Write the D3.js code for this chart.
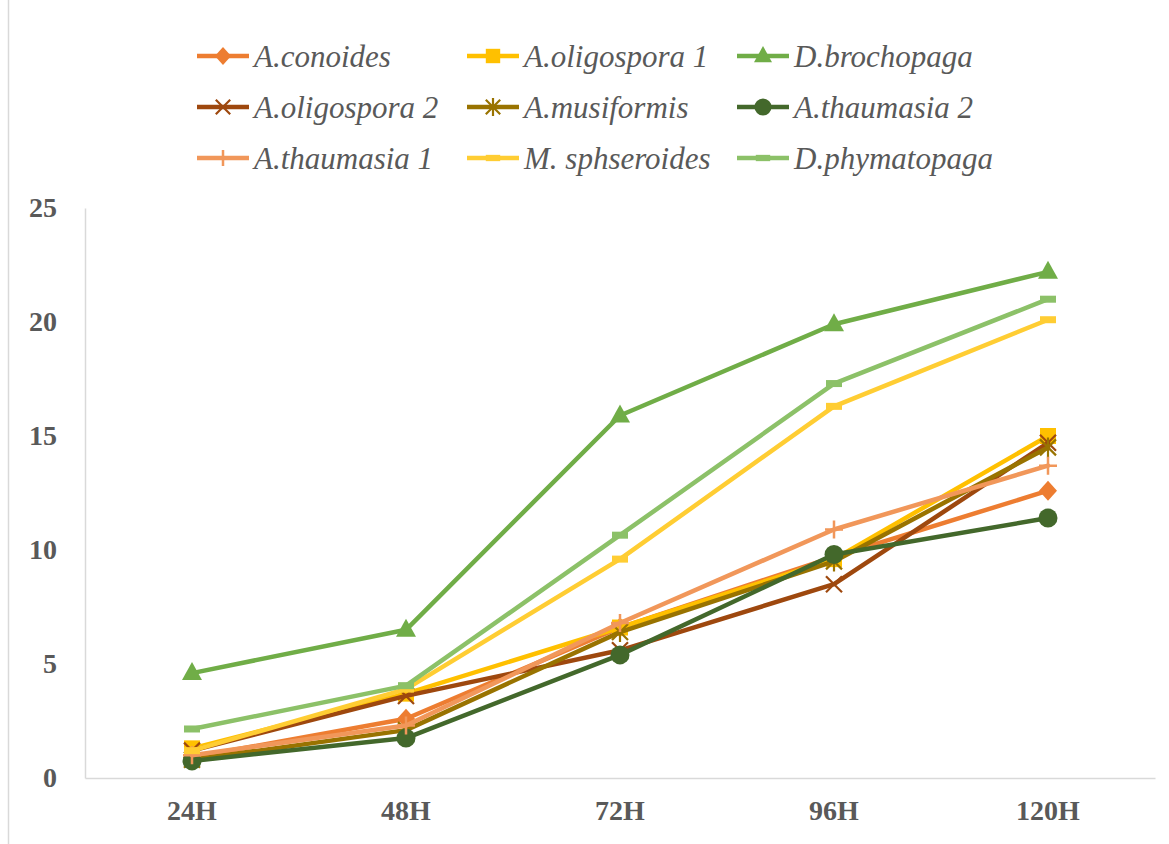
<!DOCTYPE html>
<html>
<head>
<meta charset="utf-8">
<script src="https://cdn.jsdelivr.net/npm/d3@7/dist/d3.min.js"></script>
<style>
  html, body { margin: 0; padding: 0; background: #fff; }
  svg { display: block; }
</style>
</head>
<body>
<svg id="chart" width="1169" height="844"></svg>
<script>
// Time points (hours after inoculation)
const categories = ["24H", "48H", "72H", "96H", "120H"];
const yTicks = [0, 5, 10, 15, 20, 25];

// Series names, in drawing order
const seriesNames = [
  "A.conoides", "A.oligospora 1", "D.brochopaga",
  "A.oligospora 2", "A.musiformis", "A.thaumasia 2",
  "A.thaumasia 1", "M. sphseroides", "D.phymatopaga"
];

// Measured values per series
const conoides     = [0.9, 2.6, 6.6, 9.7, 12.6];
const oligospora1  = [1.3, 3.7, 6.6, 9.6, 15.0];
const brochopaga   = [4.6, 6.5, 15.9, 19.9, 22.2];
const oligospora2  = [1.2, 3.6, 5.6, 8.5, 14.7];
const musiformis   = [0.8, 2.1, 6.4, 9.5, 14.5];
const thaumasia2   = [0.75, 1.75, 5.4, 9.8, 11.4];
const thaumasia1   = [1.0, 2.3, 6.8, 10.9, 13.7];
const sphseroides  = [1.2, 3.9, 9.6, 16.3, 20.1];
const phymatopaga  = [2.15, 4.05, 10.65, 17.3, 21.0];

const seriesValues = [conoides, oligospora1, brochopaga, oligospora2, musiformis,
                      thaumasia2, thaumasia1, sphseroides, phymatopaga];

// Styling per series
const colors  = ["#ED7D31", "#FFC000", "#70AD47", "#9E480E", "#997300",
                 "#43682B", "#F1975A", "#FFCD33", "#8CC168"];
const markers = ["diamond", "square", "triangle", "x", "asterisk",
                 "circle", "plus", "dash", "dash"];

const series = seriesNames.map((name, i) => ({
  name, values: seriesValues[i], color: colors[i], marker: markers[i]
}));

const svg = d3.select("#chart");

// Frame line on the left edge
svg.append("line")
  .attr("x1", 8.5).attr("x2", 8.5).attr("y1", 0).attr("y2", 844)
  .attr("stroke", "#D9D9D9").attr("stroke-width", 1.5);

const plot = { left: 85, right: 1155, top: 208, bottom: 778 };

const x = d3.scaleBand().domain(categories).range([plot.left, plot.right]);
const y = d3.scaleLinear().domain([0, 25]).range([plot.bottom, plot.top]);
const cx = c => x(c) + x.bandwidth() / 2;

const serif = "'Liberation Serif', 'Times New Roman', serif";

// Axes
const yAxis = d3.axisLeft(y).tickValues(yTicks).tickSize(0).tickPadding(28);
const gy = svg.append("g").attr("transform", `translate(${plot.left},0)`).call(yAxis);
gy.select(".domain").attr("stroke", "#D9D9D9").attr("stroke-width", 1.5);
gy.selectAll("text")
  .attr("font-family", serif)
  .attr("font-weight", "bold").attr("font-size", 28).attr("fill", "#595959");

const xAxis = d3.axisBottom(x).tickSize(0).tickPadding(22);
const gx = svg.append("g").attr("transform", `translate(0,${plot.bottom})`).call(xAxis);
gx.select(".domain").attr("stroke", "#D9D9D9").attr("stroke-width", 1.5);
gx.selectAll("text")
  .attr("font-family", serif)
  .attr("font-weight", "bold").attr("font-size", 28).attr("fill", "#595959");

// Marker drawing
function drawMarker(g, type, color, px, py, s) {
  s = s || 1;
  switch (type) {
    case "diamond":
      g.append("path").attr("d", `M${px},${py - 10*s}L${px + 9*s},${py}L${px},${py + 10*s}L${px - 9*s},${py}Z`)
        .attr("fill", color);
      break;
    case "square":
      g.append("rect").attr("x", px - 8*s).attr("y", py - 8*s).attr("width", 16*s).attr("height", 16*s)
        .attr("fill", color);
      break;
    case "triangle":
      g.append("path").attr("d", `M${px},${py - 11*s}L${px + 10*s},${py + 7*s}L${px - 10*s},${py + 7*s}Z`)
        .attr("fill", color);
      break;
    case "circle":
      g.append("circle").attr("cx", px).attr("cy", py).attr("r", 9.5*s).attr("fill", color);
      break;
    case "x":
      g.append("path").attr("d", `M${px - 8*s},${py - 8*s}L${px + 8*s},${py + 8*s}M${px - 8*s},${py + 8*s}L${px + 8*s},${py - 8*s}`)
        .attr("stroke", color).attr("stroke-width", 2.2).attr("fill", "none");
      break;
    case "asterisk":
      g.append("path").attr("d", `M${px - 8*s},${py - 8*s}L${px + 8*s},${py + 8*s}M${px - 8*s},${py + 8*s}L${px + 8*s},${py - 8*s}M${px},${py - 10*s}L${px},${py + 10*s}`)
        .attr("stroke", color).attr("stroke-width", 2.2).attr("fill", "none");
      break;
    case "plus":
      g.append("path").attr("d", `M${px - 9*s},${py}L${px + 9*s},${py}M${px},${py - 9*s}L${px},${py + 9*s}`)
        .attr("stroke", color).attr("stroke-width", 2.5).attr("fill", "none");
      break;
    case "dash":
      g.append("rect").attr("x", px - 8*s).attr("y", py - 3.5*s).attr("width", 16*s).attr("height", 7*s)
        .attr("fill", color);
      break;
  }
}

// Lines and markers
const line = d3.line().x((d, i) => cx(categories[i])).y(d => y(d));
series.forEach(s => {
  const g = svg.append("g");
  g.append("path").datum(s.values).attr("d", line)
    .attr("fill", "none").attr("stroke", s.color).attr("stroke-width", 4.5)
    .attr("stroke-linejoin", "round").attr("stroke-linecap", "round");
  s.values.forEach((v, i) => drawMarker(g, s.marker, s.color, cx(categories[i]), y(v)));
});

// Legend: three columns, three rows
const legendCols = [197, 467, 737];
const legendRows = [56, 107, 158];
series.forEach((s, i) => {
  const lx = legendCols[i % 3], ly = legendRows[Math.floor(i / 3)];
  const g = svg.append("g");
  g.append("line").attr("x1", lx).attr("x2", lx + 52).attr("y1", ly).attr("y2", ly)
    .attr("stroke", s.color).attr("stroke-width", 4.5);
  drawMarker(g, s.marker, s.color, lx + 26, ly, 0.9);
  g.append("text").attr("x", lx + 57).attr("y", ly).attr("dy", "0.35em")
    .attr("font-family", serif)
    .attr("font-style", "italic").attr("font-size", 31).attr("fill", "#595959")
    .text(s.name);
});
</script>
</body>
</html>
